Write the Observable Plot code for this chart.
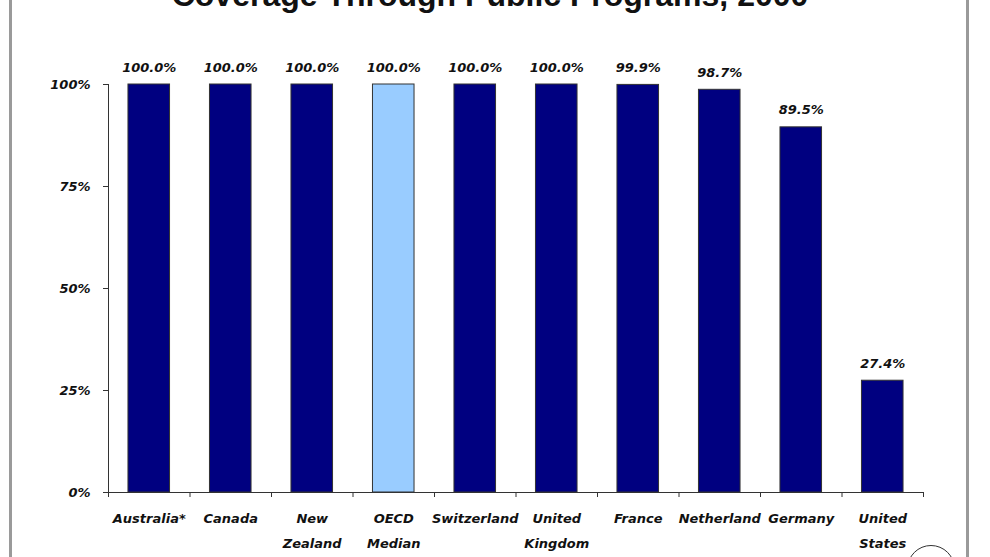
<!DOCTYPE html>
<html>
<head>
<meta charset="utf-8">
<script src="https://cdn.jsdelivr.net/npm/d3@7"></script>
<script src="https://cdn.jsdelivr.net/npm/@observablehq/plot@0.6"></script>
<style>
  html, body { margin: 0; padding: 0; background: #fff; overflow: hidden; }
  #wrap { position: relative; width: 990px; height: 557px; overflow: hidden; }
  #title { position: absolute; left: 0; width: 980px; top: -21px; text-align: center;
           font: bold 32px "Liberation Sans", Arial, sans-serif; line-height: 32px; color: #111; }
  .border { position: absolute; top: 0; width: 3px; height: 557px; background: #9a9a9a; }
  #logo { position: absolute; left: 907px; top: 545px; width: 46px; height: 46px;
          border: 1px solid #333; border-radius: 50%; }
  #chart { position: absolute; left: 0; top: 0; }
</style>
</head>
<body>
<div id="wrap">
  <div id="title">Coverage Through Public Programs, 2000</div>
  <div class="border" style="left:9px"></div>
  <div class="border" style="left:966px"></div>
  <div id="logo"></div>
  <div id="chart"></div>
</div>
<script>
const categories = ["Australia*", "Canada", "New\nZealand", "OECD\nMedian", "Switzerland",
                    "United\nKingdom", "France", "Netherland", "Germany", "United\nStates"];
const values = [100.0, 100.0, 100.0, 100.0, 100.0, 100.0, 99.9, 98.7, 89.5, 27.4];
const valueLabels = ["100.0%", "100.0%", "100.0%", "100.0%", "100.0%", "100.0%", "99.9%", "98.7%", "89.5%", "27.4%"];
const highlight = ["OECD\nMedian"];
const yTicks = [0, 25, 50, 75, 100];
const yTickLabels = ["0%", "25%", "50%", "75%", "100%"];

const data = categories.map((c, i) => ({
  i, category: c, value: values[i], label: valueLabels[i],
  kind: highlight.includes(c) ? "median" : "country"
}));
const boundaries = d3.range(categories.length + 1).map(k => k - 0.5);
const half = 0.255;

const plot = Plot.plot({
  width: 990,
  height: 557,
  marginTop: 84,
  marginBottom: 65,
  marginLeft: 108,
  marginRight: 67,
  style: { fontFamily: "DejaVu Sans, sans-serif", fontSize: "13px", fontWeight: "bold",
           fontStyle: "italic", color: "#111", background: "transparent" },
  x: { domain: [-0.5, categories.length - 0.5] },
  y: { domain: [0, 100] },
  color: { domain: ["country", "median"], range: ["#000080", "#99ccff"] },
  marks: [
    Plot.rectY(data, { x1: d => d.i - half, x2: d => d.i + half, y: "value",
                       fill: "kind", stroke: "#333", strokeWidth: 1 }),
    Plot.text(data, { x: "i", y: "value", text: "label", lineAnchor: "bottom", dy: -13, fill: "#111" }),
    Plot.text(data, { x: "i", y: 0, text: "category", lineAnchor: "top", dy: 13, lineHeight: 1.9, fill: "#111" }),
    Plot.axisX({ ticks: boundaries, tickFormat: () => "", tickSize: 5, stroke: "#333", label: null }),
    Plot.axisY({ ticks: yTicks, tickFormat: d => yTickLabels[yTicks.indexOf(d)], tickSize: 5,
                 tickPadding: 13, stroke: "#333", label: null }),
    Plot.ruleX([-0.5], { stroke: "#333" }),
    Plot.ruleY([0], { stroke: "#333" })
  ]
});
document.getElementById("chart").appendChild(plot);
</script>
</body>
</html>
